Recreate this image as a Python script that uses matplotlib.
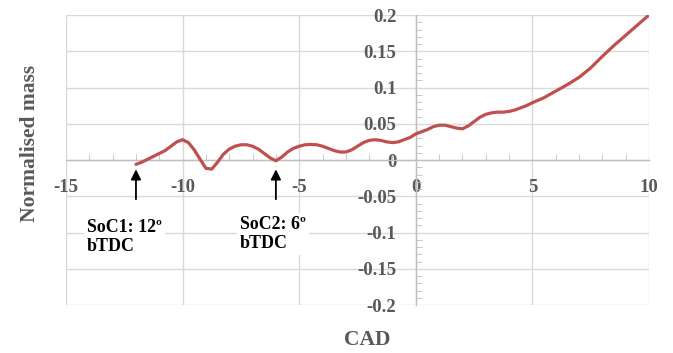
import matplotlib
matplotlib.use("Agg")
import matplotlib.pyplot as plt
from matplotlib.ticker import MultipleLocator, FixedLocator

plt.rcParams["axes.unicode_minus"] = False

cad = [-12, -11.75, -11.5, -11.25, -11, -10.75, -10.5, -10.25, -10, -9.75, -9.5, -9.25,
       -9, -8.75, -8.5, -8.25, -8, -7.75, -7.5, -7.25, -7, -6.75, -6.5, -6.25, -6,
       -5.75, -5.5, -5.25, -5, -4.75, -4.5, -4.25, -4, -3.75, -3.5, -3.25, -3, -2.75,
       -2.5, -2.25, -2, -1.75, -1.5, -1.25, -1, -0.75, -0.5, -0.25, 0, 0.25, 0.5, 0.75,
       1, 1.25, 1.5, 1.75, 2, 2.25, 2.5, 2.75, 3, 3.25, 3.5, 3.75, 4, 4.25, 4.5, 4.75,
       5, 5.5, 6, 6.5, 7, 7.5, 8, 8.5, 9, 9.5, 10]
mass = [-0.006, -0.003, 0.001, 0.005, 0.009, 0.013, 0.019, 0.025, 0.028, 0.024, 0.014, 0.001,
        -0.0115, -0.0125, -0.003, 0.008, 0.015, 0.019, 0.021, 0.021, 0.019, 0.015, 0.009, 0.003, -0.001,
        0.004, 0.011, 0.016, 0.019, 0.021, 0.0215, 0.021, 0.019, 0.016, 0.013, 0.011, 0.011, 0.014,
        0.019, 0.024, 0.027, 0.028, 0.027, 0.025, 0.024, 0.025, 0.028, 0.031, 0.036, 0.039, 0.042, 0.046,
        0.048, 0.048, 0.046, 0.044, 0.043, 0.047, 0.053, 0.059, 0.063, 0.065, 0.066, 0.066, 0.067, 0.069, 0.072, 0.075,
        0.079, 0.086, 0.095, 0.104, 0.114, 0.127, 0.143, 0.158, 0.172, 0.186, 0.200]

x_ticks = [-15, -10, -5, 0, 5, 10]
y_ticks = [-0.2, -0.15, -0.1, -0.05, 0, 0.05, 0.1, 0.15, 0.2]
y_tick_labels = ["-0.2", "-0.15", "-0.1", "-0.05", "0", "0.05", "0.1", "0.15", "0.2"]
soc_x = [-12, -6]
soc_labels = ["SoC1: 12º\nbTDC", "SoC2: 6º\nbTDC"]

serif = ["Liberation Serif", "DejaVu Serif"]
gray = "#595959"

fig = plt.figure(figsize=(6.73, 3.53), dpi=100)
ax = fig.add_axes([66/673, 1-305/353, (649-66)/673, (305-15)/353])

ax.set_xlim(-15, 10)
ax.set_ylim(-0.2, 0.2)

for s in ["top", "right"]:
    ax.spines[s].set_visible(False)
ax.spines["left"].set_position(("data", 0))
ax.spines["bottom"].set_position(("data", 0))
ax.spines["left"].set_color("#bfbfbf")
ax.spines["bottom"].set_color("#bfbfbf")
ax.spines["left"].set_linewidth(1.0)
ax.spines["bottom"].set_linewidth(1.0)

ax.xaxis.set_major_locator(FixedLocator(x_ticks))
ax.yaxis.set_major_locator(FixedLocator(y_ticks))
ax.set_yticklabels(y_tick_labels)
ax.xaxis.set_minor_locator(MultipleLocator(1))
ax.yaxis.set_minor_locator(MultipleLocator(0.01))
ax.tick_params(axis="both", which="major", length=0)
ax.tick_params(axis="x", which="major", pad=14)
ax.tick_params(axis="y", which="major", pad=14)
ax.tick_params(axis="x", which="minor", direction="in", length=4, color="#bfbfbf")
ax.tick_params(axis="y", which="minor", direction="in", length=4, color="#bfbfbf")
for lab in ax.get_xticklabels() + ax.get_yticklabels():
    lab.set_fontfamily(serif)
    lab.set_fontweight("bold")
    lab.set_fontsize(13.5)
    lab.set_color(gray)

# gridlines incl. outer border
for xv in x_ticks:
    ax.axvline(xv, color="#d9d9d9", lw=1.0, zorder=0)
for yv in y_ticks:
    ax.axhline(yv, color="#d9d9d9", lw=1.0, zorder=0)

ax.plot(cad, mass, color="#c0504d", lw=2.3, solid_capstyle="round",
        solid_joinstyle="round", zorder=3)

text_pos = [(-14.1, -0.106), (-7.54, -0.102)]
for sx, lbl, (tx, ty) in zip(soc_x, soc_labels, text_pos):
    ax.annotate("", xy=(sx, -0.009), xytext=(sx, -0.058),
                arrowprops=dict(arrowstyle="-|>,head_width=0.3,head_length=0.6",
                                color="black", lw=1.3), zorder=4)
    ax.text(tx, ty, lbl, ha="left", va="center", fontsize=12.9, fontweight="bold",
            family=serif, color="black", linespacing=1.2,
            bbox=dict(facecolor="white", edgecolor="none", pad=2), zorder=4)

fig.text(367/673, 1-340/353, "CAD", ha="center", va="center", fontsize=15.5,
         fontweight="bold", family=serif, color=gray)
fig.text(30/673, 1-143/353, "Normalised mass", ha="center", va="center", rotation=90,
         fontsize=15.5, fontweight="bold", family=serif, color=gray)

fig.savefig("out.png", dpi=100)
